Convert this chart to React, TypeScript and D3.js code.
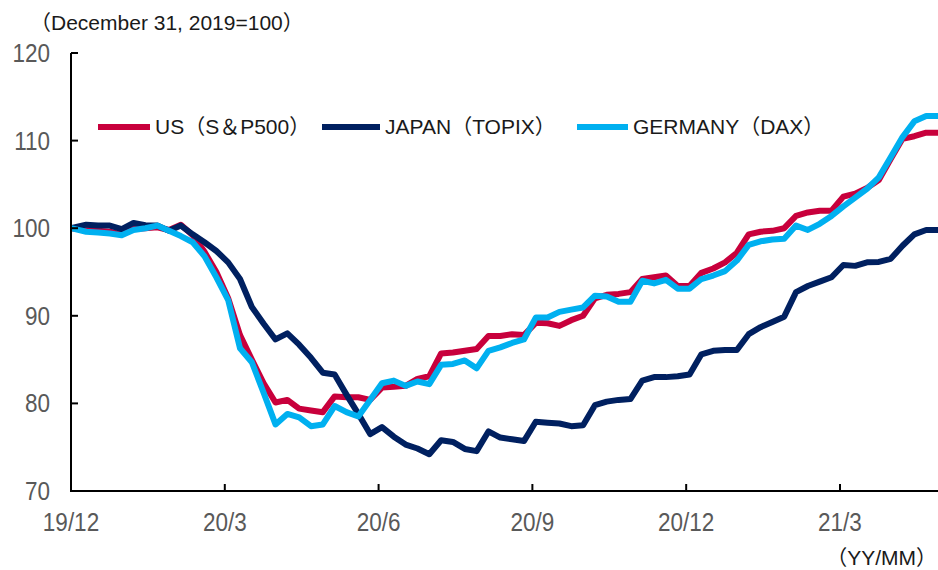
import React from 'react';
import * as d3 from 'd3';

// ---------- data ----------
const baseDate = '2019-12-31';
const firstWeekly = '2020-01-09';
const seriesNames = ['US（S＆P500）', 'JAPAN（TOPIX）', 'GERMANY（DAX）'];
const seriesColors = ['#C8003C', '#002060', '#00B0F0'];

const usValues = [
  100, 99.8, 99.7, 99.6, 99.3, 99.9, 100.0, 100.1, 99.8, 100.4,
  99.2, 97.3, 95.0, 92.0, 87.8, 85.0, 82.3, 80.1, 80.4, 79.4,
  79.2, 79.0, 80.8, 80.7, 80.7, 80.4, 81.8, 81.9, 82.0, 82.8,
  83.1, 85.7, 85.8, 86.0, 86.2, 87.7, 87.7, 87.9, 87.8, 89.2,
  89.15, 88.85, 89.5, 90.0, 92.0, 92.4, 92.5, 92.7, 94.2, 94.4,
  94.6, 93.4, 93.4, 94.9, 95.4, 96.1, 97.2, 99.3, 99.6, 99.7,
  100.0, 101.4, 101.8, 102.0, 102.0, 103.6, 103.95, 104.6, 105.5, 107.9,
  110.2, 110.5, 110.9, 110.9,
];
const japanValues = [
  100, 100.4, 100.3, 100.3, 99.9, 100.6, 100.35, 100.3, 99.7, 100.3,
  99.3, 98.4, 97.4, 96.1, 94.2, 91.0, 89.1, 87.3, 88.0, 86.7,
  85.2, 83.5, 83.3, 81.0, 78.8, 76.5, 77.3, 76.2, 75.3, 74.85,
  74.2, 75.8, 75.6, 74.8, 74.55, 76.8, 76.1, 75.9, 75.7, 77.9,
  77.8, 77.7, 77.4, 77.5, 79.8, 80.2, 80.4, 80.5, 82.6, 83.0,
  83.0, 83.1, 83.3, 85.6, 86.0, 86.1, 86.1, 87.9, 88.7, 89.3,
  89.9, 92.7, 93.4, 93.9, 94.4, 95.8, 95.7, 96.1, 96.15, 96.5,
  98.0, 99.3, 99.8, 99.8,
];
const germanyValues = [
  100, 99.6, 99.5, 99.4, 99.2, 99.8, 100.0, 100.3, 99.7, 99.1,
  98.4, 96.8, 94.4, 91.8, 86.3, 84.7, 81.2, 77.6, 78.8, 78.4,
  77.4, 77.6, 79.7, 79.0, 78.5, 80.4, 82.3, 82.6, 82.0, 82.5,
  82.2, 84.4, 84.5, 84.9, 84.0, 86.0, 86.4, 86.9, 87.3, 89.8,
  89.8, 90.45, 90.7, 90.95, 92.3, 92.2, 91.6, 91.6, 94.0, 93.7,
  94.1, 93.1, 93.1, 94.2, 94.6, 95.1, 96.3, 98.1, 98.5, 98.7,
  98.8, 100.3, 99.8, 100.5, 101.4, 102.5, 103.5, 104.5, 105.8, 108.1,
  110.4, 112.2, 112.8, 112.8,
];

const yTicks = [70, 80, 90, 100, 110, 120];
const xTickDates = ['2019-12-31', '2020-03-31', '2020-06-30', '2020-09-29', '2020-12-29', '2021-03-30'];
const xTickLabels = ['19/12', '20/3', '20/6', '20/9', '20/12', '21/3'];
const domainEnd = '2021-05-27';

// ---------- helpers ----------
const parse = d3.utcParse('%Y-%m-%d');
const dates: Date[] = usValues.map((_, i) =>
  i === 0 ? (parse(baseDate) as Date) : d3.utcDay.offset(parse(firstWeekly) as Date, 7 * (i - 1))
);

const W = 938;
const H = 570;
const left = 71;
const right = 938;
const top = 53;
const bottom = 491;

const x = d3.scaleUtc().domain([parse(baseDate) as Date, parse(domainEnd) as Date]).range([left, right]);
const y = d3.scaleLinear().domain([70, 120]).range([bottom, top]);

const allSeries = [usValues, japanValues, germanyValues];

const axisFont = '"Liberation Sans", Arial, sans-serif';
const textFont = '"Liberation Sans", "Noto Sans CJK JP", Arial, sans-serif';

export default function App() {
  const line = d3
    .line<number>()
    .x((_, i) => x(dates[i]))
    .y((v) => y(v));

  const legendX = [
    [98, 150, 155],
    [322, 380, 385],
    [577, 628, 633],
  ];

  return (
    <svg
      width={W}
      height={H}
      style={{ position: 'absolute', left: 0, top: 0, background: '#fff' }}
    >
      <rect x={0} y={0} width={W} height={H} fill="#fff" />
      {/* title */}
      <text x={30} y={30} fontFamily={textFont} fontSize={21} fill="#1a1a1a">
        （December 31, 2019=100）
      </text>

      {/* y tick labels */}
      {yTicks.map((t) => (
        <text
          key={t}
          transform={`translate(50,${y(t) + 9}) scale(0.9,1)`}
          textAnchor="end"
          fontFamily={axisFont}
          fontSize={25}
          fill="#595959"
        >
          {t}
        </text>
      ))}

      {/* x tick labels */}
      {xTickDates.map((d, i) => (
        <text
          key={d}
          transform={`translate(${x(parse(d) as Date)},${531}) scale(0.9,1)`}
          textAnchor="middle"
          fontFamily={axisFont}
          fontSize={25}
          fill="#595959"
        >
          {xTickLabels[i]}
        </text>
      ))}
      <text
        x={937}
        y={565}
        textAnchor="end"
        fontFamily={textFont}
        fontSize={21}
        fill="#1a1a1a"
      >
        （YY/MM）
      </text>

      {/* series */}
      {allSeries.map((s, k) => (
        <path
          key={k}
          d={line(s) || ''}
          fill="none"
          stroke={seriesColors[k]}
          strokeWidth={6}
          strokeLinejoin="round"
        />
      ))}

      {/* axes */}
      <line x1={left} y1={top} x2={left} y2={bottom + 1} stroke="#000" strokeWidth={2} />
      <line x1={left - 1} y1={bottom} x2={right} y2={bottom} stroke="#000" strokeWidth={2} />
      {yTicks.map((t) => (
        <line key={t} x1={left} y1={y(t)} x2={left + 7} y2={y(t)} stroke="#000" strokeWidth={2} />
      ))}
      {xTickDates.map((d) => (
        <line
          key={d}
          x1={x(parse(d) as Date)}
          y1={bottom}
          x2={x(parse(d) as Date)}
          y2={bottom - 7}
          stroke="#000"
          strokeWidth={2}
        />
      ))}

      {/* legend */}
      {seriesNames.map((n, k) => (
        <g key={n}>
          <line
            x1={legendX[k][0]}
            y1={127}
            x2={legendX[k][1]}
            y2={127}
            stroke={seriesColors[k]}
            strokeWidth={6}
          />
          <text x={legendX[k][2]} y={134} fontFamily={textFont} fontSize={21} fill="#1a1a1a">
            {n}
          </text>
        </g>
      ))}
    </svg>
  );
}
